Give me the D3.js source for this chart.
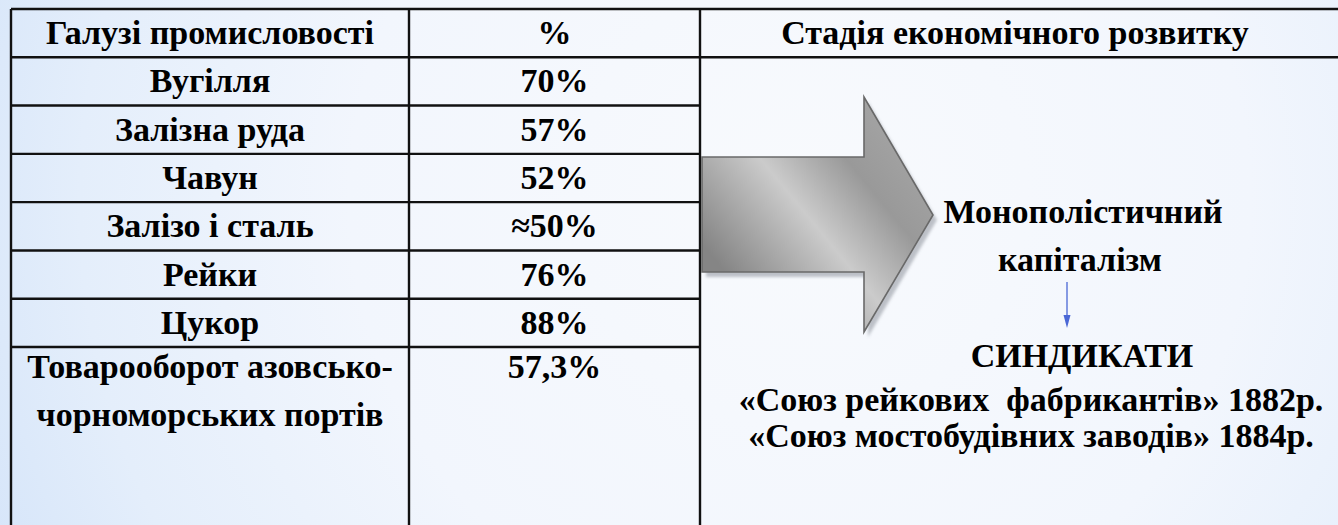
<!DOCTYPE html>
<html><head><meta charset="utf-8">
<script src="https://cdn.jsdelivr.net/npm/d3@7"></script>
</head><body style="margin:0">
<script>
const headers = ["Галузі промисловості", "%", "Стадія економічного розвитку"];
const industries = ["Вугілля", "Залізна руда", "Чавун", "Залізо і сталь", "Рейки", "Цукор", ["Товарооборот азовсько-", "чорноморських портів"]];
const shares = [70, 57, 52, 50, 76, 88, 57.3];
const approx = [false, false, false, true, false, false, false];
const stageLines = ["Монополістичний", "капіталізм"];
const syndTitle = "СИНДИКАТИ";
const syndicates = ["«Союз рейкових  фабрикантів» 1882р.", "«Союз мостобудівних заводів» 1884р."];

const W = 1338, H = 525;
const FF = "Liberation Serif";
const fmt = (v, a) => (a ? "≈" : "") + String(v).replace(".", ",") + "%";

const svg = d3.select("body").append("svg").attr("width", W).attr("height", H).style("display", "block");
const defs = svg.append("defs");

const bg = defs.append("radialGradient").attr("id", "bg").attr("gradientUnits", "userSpaceOnUse")
  .attr("cx", 800).attr("cy", 200).attr("r", 900);
bg.append("stop").attr("offset", "0%").attr("stop-color", "#f8fafd");
bg.append("stop").attr("offset", "50%").attr("stop-color", "#f2f6fd");
bg.append("stop").attr("offset", "80%").attr("stop-color", "#e4eefb");
bg.append("stop").attr("offset", "100%").attr("stop-color", "#d4e4f9");
svg.append("rect").attr("width", W).attr("height", H).attr("fill", "url(#bg)");

const colEdges = [11, 409, 700, 1345];
const x = d3.scaleOrdinal().domain([0,1,2,3]).range(colEdges);
const y = d3.scaleLinear().domain([0, 7]).range([9, 347]);
const fs = 34;
const cx = i => (x(i) + x(i + 1)) / 2;

function txt(sel) {
  return sel.attr("font-family", FF).attr("font-weight", "bold").attr("font-size", fs)
    .attr("fill", "#000").attr("text-anchor", "middle");
}

const g = svg.append("g");
g.selectAll("line.h").data(d3.range(0, 8)).join("line")
  .attr("x1", x(0))
  .attr("x2", d => d <= 1 ? x(3) : x(2))
  .attr("y1", d => y(d)).attr("y2", d => y(d))
  .attr("stroke", "#111").attr("stroke-width", 2.4);
g.selectAll("line.v").data([0,1,2]).join("line")
  .attr("x1", d => x(d)).attr("x2", d => x(d))
  .attr("y1", y(0)).attr("y2", H + 5)
  .attr("stroke", "#111").attr("stroke-width", 2.4);

txt(svg.selectAll("text.hdr").data(headers).join("text").attr("class", "hdr"))
  .attr("x", (d, i) => i === 2 ? 1015 : cx(i))
  .attr("y", y(0.5) + 11).text(d => d);

const baseY = i => i < 6 ? y(i + 1.5) + 11 : y(i + 1) + 31;
industries.forEach((d, i) => {
  const lines = Array.isArray(d) ? d : [d];
  const t = txt(svg.append("text"));
  lines.forEach((l, k) => {
    t.append("tspan").attr("x", cx(0)).attr("y", baseY(i) + k * 48).text(l);
  });
});
txt(svg.selectAll("text.val").data(shares).join("text").attr("class", "val"))
  .attr("x", cx(1)).attr("y", (d, i) => baseY(i))
  .text((d, i) => fmt(d, approx[i]));

// big arrow
const ag = defs.append("linearGradient").attr("id", "ag").attr("gradientUnits", "userSpaceOnUse")
  .attr("x1", 740).attr("y1", 290).attr("x2", 910).attr("y2", 150);
ag.append("stop").attr("offset", "0%").attr("stop-color", "#858585");
ag.append("stop").attr("offset", "45%").attr("stop-color", "#cbcbcb");
ag.append("stop").attr("offset", "75%").attr("stop-color", "#999999");
ag.append("stop").attr("offset", "100%").attr("stop-color", "#a3a3a3");
const blur = defs.append("filter").attr("id", "blur");
blur.append("feGaussianBlur").attr("stdDeviation", 1.5);
const arrowPts = [[702,157],[864,157],[864,97],[933,215],[864,332],[864,272],[702,272]];
const line = d3.line();
svg.append("path").attr("d", line(arrowPts.map(p => [p[0]+4, p[1]+5])) + "Z")
  .attr("fill", "#a9adb5").attr("opacity", 0.75).attr("filter", "url(#blur)");
svg.append("path").attr("d", line(arrowPts) + "Z").attr("fill", "url(#ag)")
  .attr("stroke", "#696969").attr("stroke-width", 1.6).attr("stroke-linejoin", "miter");

txt(svg.selectAll("text.stage").data(stageLines).join("text").attr("class", "stage"))
  .attr("x", (d, i) => i === 0 ? 1083 : 1080).attr("y", (d, i) => 223 + i * 48)
  .text(d => d);

svg.append("line").attr("x1", 1067).attr("x2", 1067).attr("y1", 282).attr("y2", 318)
  .attr("stroke", "#4a67d6").attr("stroke-width", 1.3);
svg.append("path").attr("d", "M1063.5,315 L1070.5,315 L1067,328 Z").attr("fill", "#4a67d6");

txt(svg.append("text")).attr("x", 1082).attr("y", 367).text(syndTitle);
txt(svg.selectAll("text.syn").data(syndicates).join("text").attr("class", "syn"))
  .attr("x", 1031).attr("y", (d, i) => 411 + i * 36)
  .style("white-space", "pre").text(d => d);
</script></body></html>
